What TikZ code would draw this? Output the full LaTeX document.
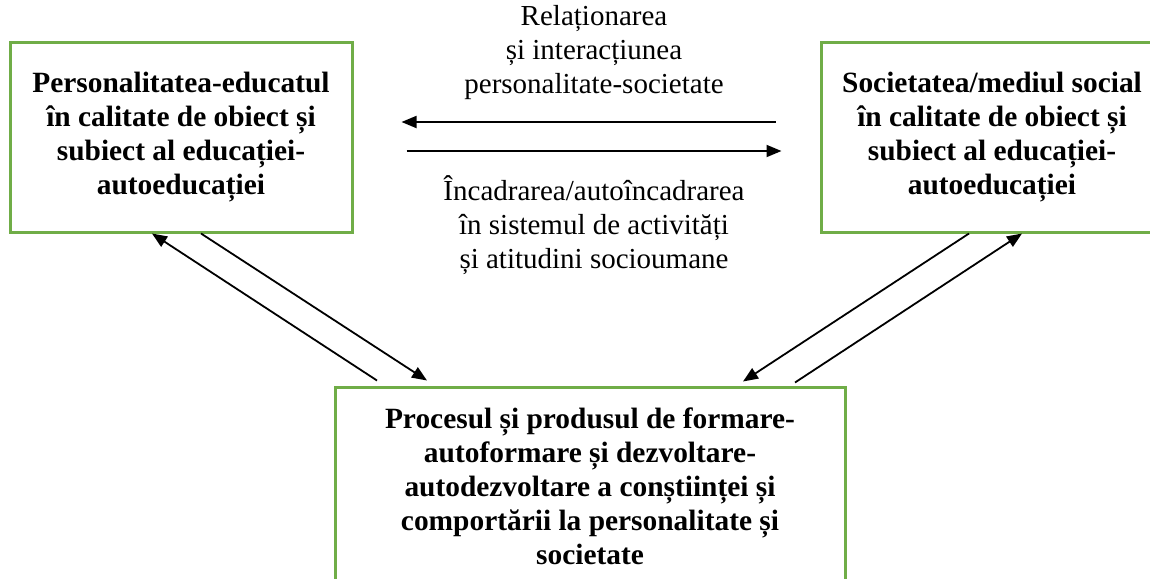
\documentclass[tikz,border=0pt]{standalone}
\usepackage{fontspec}
\setmainfont{Liberation Serif}
\usetikzlibrary{arrows.meta}
\definecolor{boxgreen}{RGB}{112,173,71}

\begin{document}
\begin{tikzpicture}[x = 0.5pt, y = -0.5pt,
    box/.style = {draw = boxgreen, line width = 1.5pt, align = center,
        font = \fontsize{14.7}{17}\selectfont\bfseries, inner sep = 0pt},
    lbl/.style = {align = center, font = \fontsize{14.5}{17}\selectfont},
    arr/.style = {line width = 0.9pt, -{Triangle[length = 7.5pt, width = 6pt]}}]
        \useasboundingbox (0,0) rectangle (1150,578);
        \clip (0,0) rectangle (1150,578);
        \node[box, minimum width = 171pt, minimum height = 95pt] (pers) at (181,137)
            {Personalitatea-educatul\\în calitate de obiect și\\subiect al educației-\\autoeducației};
        \node[box, minimum width = 171pt, minimum height = 95pt] (soc) at (992,137)
            {Societatea/mediul social\\în calitate de obiect și\\subiect al educației-\\autoeducației};
        \node[box, minimum width = 255pt, minimum height = 99pt] (proc) at (590,486)
            {Procesul și produsul de formare-\\autoformare și dezvoltare-\\autodezvoltare a conștiinței și\\comportării la personalitate și\\societate};
        \node[lbl] (reltop) at (594,53)
            {Relaționarea\\și interacțiunea\\personalitate-societate};
        \node[lbl] (relbot) at (594,225)
            {Încadrarea/autoîncadrarea\\în sistemul de activități\\și atitudini socioumane};
        \draw[arr] ([xshift = -22pt, yshift = 7.5pt]soc.west) -- ([xshift = 24pt, yshift = 7.5pt]pers.east);
        \draw[arr] ([xshift = 26.5pt, yshift = -7pt]pers.east) -- ([xshift = -19pt, yshift = -7pt]soc.west);
        \draw[arr] ([xshift = -106.5pt, yshift = 2.5pt]proc.north) -- ([xshift = -14.5pt]pers.south);
        \draw[arr] ([xshift = 10pt]pers.south) -- ([xshift = -81.5pt, yshift = 2.5pt]proc.north);
        \draw[arr] ([xshift = -11.5pt]soc.south) -- ([xshift = 76.5pt, yshift = 2pt]proc.north);
        \draw[arr] ([xshift = 102.5pt, yshift = 1.5pt]proc.north) -- ([xshift = 15pt]soc.south);
\end{tikzpicture}
\end{document}
